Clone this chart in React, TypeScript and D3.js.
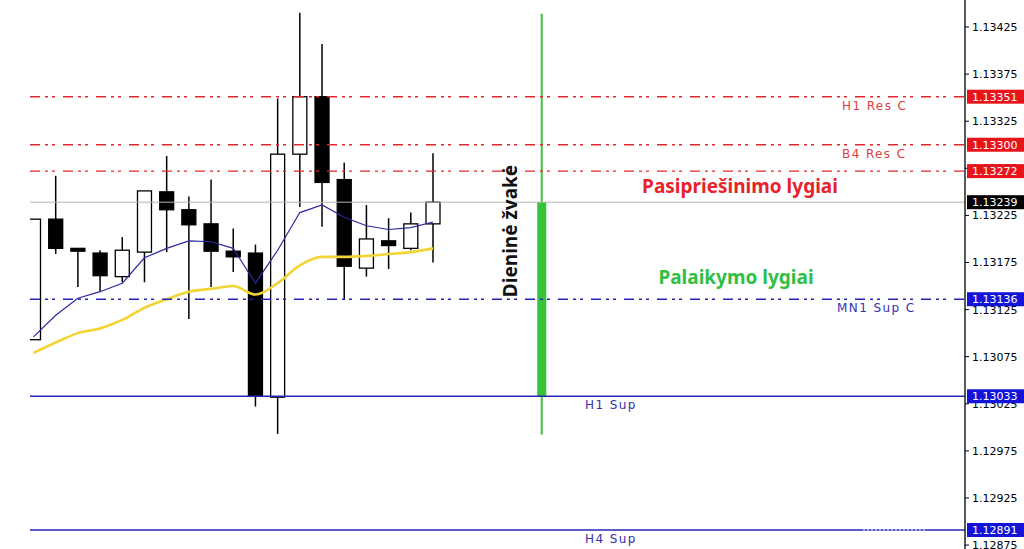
import React from 'react';
import * as d3 from 'd3';

// H1 candles (oldest -> newest)
const opens = [1.13093, 1.13221, 1.1319, 1.13185, 1.1316, 1.13186, 1.1325, 1.13231, 1.13216, 1.13187, 1.13185, 1.13032, 1.1329, 1.13351, 1.13263, 1.13169, 1.13198, 1.1319, 1.13216];
const highs = [1.13221, 1.13267, 1.1319, 1.13188, 1.13202, 1.13251, 1.13288, 1.13245, 1.13263, 1.13211, 1.13194, 1.13349, 1.1344, 1.13407, 1.13281, 1.13236, 1.13222, 1.13228, 1.13291];
const lows = [1.13093, 1.13184, 1.13149, 1.13144, 1.13154, 1.13154, 1.13186, 1.13115, 1.13149, 1.13165, 1.13022, 1.12993, 1.13234, 1.13213, 1.13136, 1.1316, 1.13168, 1.13188, 1.13175];
const closes = [1.13221, 1.1319, 1.13187, 1.13161, 1.13188, 1.13251, 1.13231, 1.13215, 1.13187, 1.13181, 1.13033, 1.1329, 1.13351, 1.1326, 1.13171, 1.132, 1.13193, 1.13216, 1.13239];

// moving averages
const maFast = [1.13096, 1.13119, 1.13137, 1.13144, 1.13153, 1.1318, 1.1319, 1.13198, 1.13197, 1.1319, 1.13153, 1.13188, 1.13228, 1.13236, 1.13223, 1.13214, 1.1321, 1.13212, 1.13218];
const maSlow = [1.13079, 1.1309, 1.131, 1.13105, 1.13114, 1.13127, 1.13136, 1.13144, 1.13147, 1.1315, 1.13141, 1.13153, 1.13172, 1.13181, 1.13181, 1.13182, 1.13184, 1.13186, 1.1319];

// daily candle drawn on the same time axis
const dailyIndex = 22.9;
const daily = { o: 1.13033, h: 1.13439, l: 1.12992, c: 1.13239 };

// levels
const levelValues = [1.13351, 1.133, 1.13272, 1.13136, 1.13033, 1.12891];
const levelNames = ['H1 Res C', 'B4 Res C', '', 'MN1 Sup C', 'H1 Sup', 'H4 Sup'];
const levelTypes = ['res', 'res', 'res', 'supC', 'sup', 'sup'];
const bidPrice = 1.13239;

const yTicks = [1.12875, 1.12925, 1.12975, 1.13025, 1.13075, 1.13125, 1.13175, 1.13225, 1.13275, 1.13325, 1.13375, 1.13425];

const W = 1024;
const H = 549;
const plotLeft = 30;
const axisX = 965;

const RED = '#e3262b';
const BLUE = '#2424b8';

export default function App() {
  const x = d3.scaleLinear().domain([0, 18]).range([33.5, 433]);
  const y = d3.scaleLinear().domain([1.12891, 1.13425]).range([530, 27]);

  const fastLine = d3.line<number>().x((_, i) => x(i)).y(d => y(d));
  const slowLine = d3.line<number>().x((_, i) => x(i)).y(d => y(d)).curve(d3.curveMonotoneX);

  const bodyW = 14;
  const fmt = (v: number) => v.toFixed(5);
  const font = 'DejaVu Sans, Verdana, sans-serif';
  const bold = '"Noto Sans", "Open Sans", sans-serif';

  return (
    <div style={{ position: 'absolute', left: 0, top: 0 }}>
      <svg width={W} height={H} style={{ display: 'block', background: '#fff' }}>
        <defs>
          <clipPath id="plot">
            <rect x={plotLeft} y={0} width={axisX - plotLeft} height={H} />
          </clipPath>
        </defs>

        <g clipPath="url(#plot)">
          {/* candles */}
          {opens.map((o, i) => {
            const c = closes[i];
            const up = c >= o;
            const top = y(Math.max(o, c));
            const bot = y(Math.min(o, c));
            return (
              <g key={i}>
                <line x1={x(i)} x2={x(i)} y1={y(highs[i])} y2={y(lows[i])} stroke="#000" strokeWidth={1.5} />
                <rect
                  x={x(i) - bodyW / 2}
                  y={top}
                  width={bodyW}
                  height={Math.max(bot - top, 1.5)}
                  fill={up ? '#fff' : '#000'}
                  stroke="#000"
                  strokeWidth={1.3}
                />
              </g>
            );
          })}

          {/* daily candle */}
          <line x1={x(dailyIndex)} x2={x(dailyIndex)} y1={y(daily.h)} y2={y(daily.l)} stroke="#3cc43c" strokeWidth={2} />
          <rect x={x(dailyIndex) - 4.5} y={y(daily.c)} width={9} height={y(daily.o) - y(daily.c)} fill="#35c435" />

          {/* moving averages */}
          <path d={slowLine(maSlow) || ''} fill="none" stroke="#f2d434" strokeWidth={2.6} />
          <path d={fastLine(maFast) || ''} fill="none" stroke="#2a2aa0" strokeWidth={1.2} />

          {/* bid line */}
          <line x1={plotLeft} x2={axisX} y1={y(bidPrice)} y2={y(bidPrice)} stroke="#b4b4b4" strokeWidth={1} />

          {/* level lines */}
          {levelValues.map((v, i) => {
            const t = levelTypes[i];
            const dashed = t !== 'sup';
            return (
              <line
                key={i}
                x1={plotLeft}
                x2={axisX}
                y1={y(v)}
                y2={y(v)}
                stroke={t === 'res' ? RED : BLUE}
                strokeWidth={t === 'sup' ? 1.5 : 1.4}
                strokeDasharray={dashed ? '10,5,3,4,3,8' : undefined}
              />
            );
          })}
          <line x1={863} x2={927} y1={y(1.12891)} y2={y(1.12891)} stroke="#fff" strokeWidth={1} strokeDasharray="2,2" />
        </g>

        {/* level names */}
        {levelNames.map((n, i) =>
          n ? (
            <text
              key={i}
              x={levelTypes[i] === 'sup' ? 585 : levelTypes[i] === 'supC' ? 837 : 842}
              y={y(levelValues[i]) + 13}
              fontFamily={font}
              fontSize={12}
              letterSpacing={1.4}
              fill={levelTypes[i] === 'res' ? '#dc3c40' : '#3232b0'}
            >
              {n}
            </text>
          ) : null
        )}

        {/* annotations */}
        <text x={740} y={193} textAnchor="middle" fontFamily={bold} fontWeight={700} fontSize={19} fill="#e8222a">
          Pasipriešinimo lygiai
        </text>
        <text x={736} y={284} textAnchor="middle" fontFamily={bold} fontWeight={700} fontSize={19} fill="#2fbf44">
          Palaikymo lygiai
        </text>
        <text
          transform="translate(517,231) rotate(-90)"
          textAnchor="middle"
          fontFamily={bold}
          fontWeight={700}
          fontSize={19}
          fill="#111"
        >
          Dieninė žvakė
        </text>

        {/* price axis */}
        <line x1={axisX} x2={axisX} y1={0} y2={H} stroke="#000" strokeWidth={1.3} />
        {yTicks.map(t => (
          <g key={t}>
            <line x1={axisX} x2={axisX + 4} y1={y(t)} y2={y(t)} stroke="#000" />
            <text x={972} y={y(t) + 4} fontFamily={font} fontSize={11} fill="#000">
              {fmt(t)}
            </text>
          </g>
        ))}
        {levelValues.map((v, i) => (
          <g key={'b' + i}>
            <rect x={967} y={y(v) - 7} width={W - 967} height={14} fill={levelTypes[i] === 'res' ? '#e8141c' : '#1414d8'} />
            <text x={972} y={y(v) + 4} fontFamily={font} fontSize={11} fill="#fff">
              {fmt(v)}
            </text>
          </g>
        ))}
        <rect x={967} y={y(bidPrice) - 7} width={W - 967} height={14} fill="#000" />
        <text x={972} y={y(bidPrice) + 4} fontFamily={font} fontSize={11} fill="#fff">
          {fmt(bidPrice)}
        </text>
      </svg>
    </div>
  );
}
